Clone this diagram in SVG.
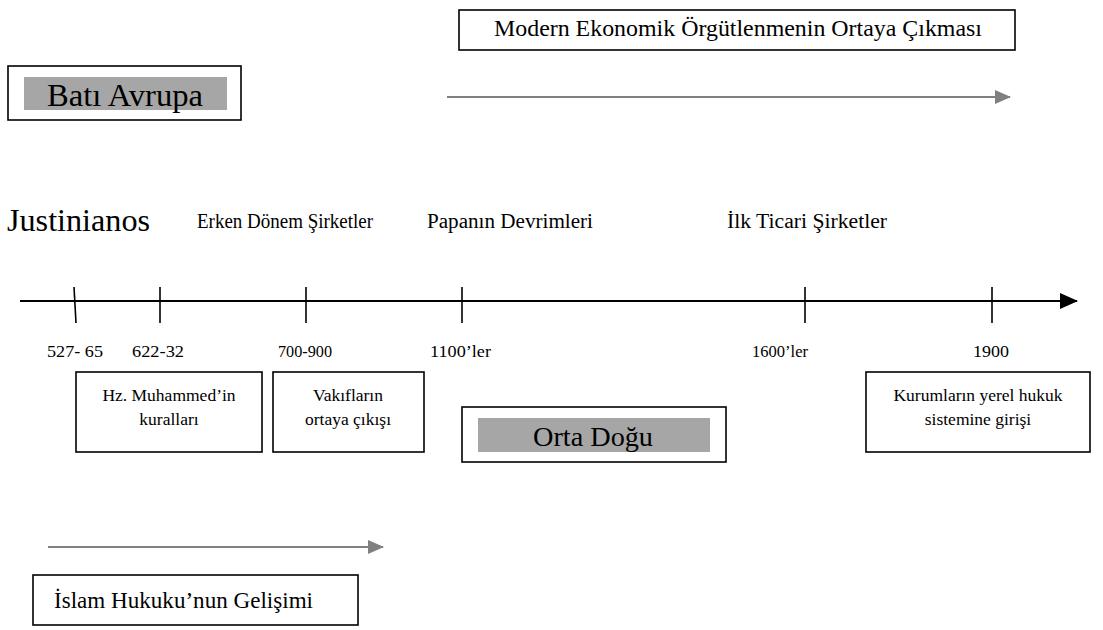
<svg xmlns="http://www.w3.org/2000/svg" width="1103" height="630" viewBox="0 0 1103 630">
<defs>
<style>
text{font-family:'Liberation Serif','Times New Roman',serif;fill:#000}
.box{fill:#fff;stroke:#000;stroke-width:1.6}
.shade{fill:#a6a6a6;stroke:none}
.tick{stroke:#000;stroke-width:1.6}
.g{stroke:#808080;stroke-width:2;fill:none}
.lbl{font-size:20px}
.yr{font-size:17.5px}
.bt{font-size:17.5px;text-anchor:middle}
</style>
<marker id="ga" markerUnits="userSpaceOnUse" markerWidth="16" markerHeight="14" refX="15" refY="7" orient="auto">
<path d="M0,0 L16,7 L0,14 Z" fill="#808080"/>
</marker>
<marker id="ba" markerUnits="userSpaceOnUse" markerWidth="18" markerHeight="16" refX="17" refY="8" orient="auto">
<path d="M0,0 L18,8 L0,16 Z" fill="#000"/>
</marker>
</defs>
<rect width="1103" height="630" fill="#fff"/>
<g font-family="'Liberation Serif', 'Times New Roman', serif">

<g id="modern">
<rect class="box" x="459" y="10" width="556" height="40"/>
<text x="494" y="36" font-size="22.6" textLength="488" lengthAdjust="spacingAndGlyphs">Modern Ekonomik Örgütlenmenin Ortaya Çıkması</text>
</g>

<g id="bati">
<rect class="box" x="8" y="66" width="233" height="54"/>
<rect class="shade" x="24" y="77" width="203" height="33"/>
<text x="47" y="106" font-size="31" textLength="156" lengthAdjust="spacingAndGlyphs">Batı Avrupa</text>
</g>

<g id="labels">
<text x="7" y="231" font-size="32" textLength="143" lengthAdjust="spacingAndGlyphs">Justinianos</text>
<text class="lbl" x="197" y="228" textLength="176" lengthAdjust="spacingAndGlyphs">Erken Dönem Şirketler</text>
<text class="lbl" x="427" y="228" textLength="166" lengthAdjust="spacingAndGlyphs">Papanın Devrimleri</text>
<text class="lbl" x="727" y="228" textLength="160" lengthAdjust="spacingAndGlyphs">İlk Ticari Şirketler</text>
</g>

<g id="timeline">
<line x1="20" y1="301" x2="1077" y2="301" stroke="#000" stroke-width="2" marker-end="url(#ba)"/>
<line class="tick" x1="74" y1="287" x2="76" y2="323"/>
<line class="tick" x1="160" y1="287" x2="160" y2="323"/>
<line class="tick" x1="306" y1="287" x2="306" y2="323"/>
<line class="tick" x1="462" y1="287" x2="462" y2="323"/>
<line class="tick" x1="805" y1="287" x2="805" y2="323"/>
<line class="tick" x1="992" y1="287" x2="992" y2="323"/>
</g>

<g id="years">
<text class="yr" x="47" y="357" textLength="56" lengthAdjust="spacingAndGlyphs">527- 65</text>
<text class="yr" x="132" y="357" textLength="52" lengthAdjust="spacingAndGlyphs">622-32</text>
<text class="yr" x="278" y="357" textLength="54" lengthAdjust="spacingAndGlyphs">700-900</text>
<text class="yr" x="430" y="357" textLength="61" lengthAdjust="spacingAndGlyphs">1100’ler</text>
<text class="yr" x="752" y="357" textLength="56" lengthAdjust="spacingAndGlyphs">1600’ler</text>
<text class="yr" x="973" y="357" textLength="36" lengthAdjust="spacingAndGlyphs">1900</text>
</g>

<g id="muhammed">
<rect class="box" x="76" y="372" width="186" height="80"/>
<text class="bt" x="169" y="401">Hz. Muhammed’in</text>
<text class="bt" x="169" y="425">kuralları</text>
</g>

<g id="vakif">
<rect class="box" x="273" y="372" width="151" height="80"/>
<text class="bt" x="348" y="401">Vakıfların</text>
<text class="bt" x="348" y="425">ortaya çıkışı</text>
</g>

<g id="ortadogu">
<rect class="box" x="462" y="407" width="264" height="55"/>
<rect class="shade" x="478" y="418" width="232" height="34"/>
<text x="533" y="446" font-size="28" textLength="120" lengthAdjust="spacingAndGlyphs">Orta Doğu</text>
</g>

<g id="kurum">
<rect class="box" x="866" y="372" width="224" height="80"/>
<text class="bt" x="978" y="401">Kurumların yerel hukuk</text>
<text class="bt" x="978" y="425">sistemine girişi</text>
</g>

<g id="connectors">
<line class="g" x1="447" y1="97" x2="1010" y2="97" marker-end="url(#ga)"/>
<line class="g" x1="48" y1="547" x2="383" y2="547" marker-end="url(#ga)"/>
</g>

<g id="islam">
<rect class="box" x="33" y="575" width="325" height="50"/>
<text x="54" y="608" font-size="22.5" textLength="259" lengthAdjust="spacingAndGlyphs">İslam Hukuku’nun Gelişimi</text>
</g>
</g>
</svg>
